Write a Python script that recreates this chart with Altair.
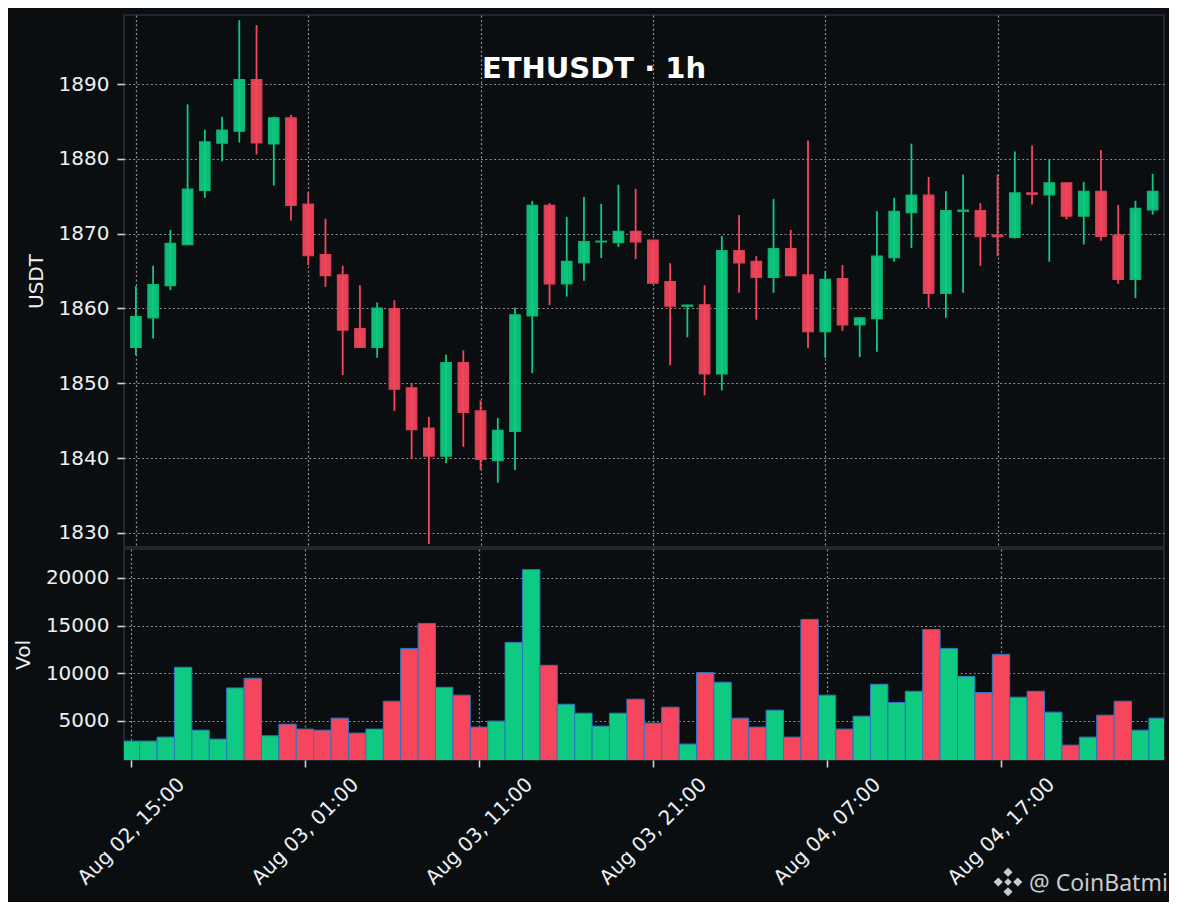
import altair as alt
import numpy as np
import pandas as pd

# ---------------- data ----------------
chart_title = "ETHUSDT · 1h"
watermark_text = "@ CoinBatmi"
first_candle = "2023-08-02T15:00:00Z"

opens = [1854.8, 1858.75, 1863.05, 1868.55, 1875.8, 1882.1, 1883.7, 1890.6, 1882.0, 1885.5,
         1873.95, 1867.2, 1864.5, 1857.3, 1854.8, 1860.0, 1849.4, 1844.0, 1840.25, 1852.75,
         1846.3, 1839.65, 1843.55, 1859.0, 1873.8, 1863.3, 1866.1, 1868.9, 1868.8, 1870.3,
         1869.15, 1863.6, 1860.3, 1860.5, 1851.25, 1867.75, 1866.3, 1864.15, 1868.0, 1864.5,
         1856.9, 1864.0, 1857.8, 1858.65, 1866.8, 1872.8, 1875.15, 1862.0, 1873.0, 1873.1,
         1869.8, 1869.5, 1875.45, 1875.2, 1876.8, 1872.35, 1875.65, 1869.8, 1863.9, 1873.2]
highs = [1863.0, 1865.7, 1870.5, 1887.3, 1883.9, 1885.65, 1898.55, 1897.9, 1885.65, 1885.9,
         1875.5, 1872.0, 1865.7, 1863.1, 1860.8, 1861.1, 1849.95, 1845.5, 1853.85, 1854.4,
         1847.7, 1845.35, 1860.1, 1874.4, 1874.1, 1872.25, 1874.9, 1874.0, 1876.55, 1876.0,
         1869.2, 1866.05, 1860.5, 1863.1, 1869.7, 1872.5, 1867.0, 1874.65, 1870.5, 1882.45,
         1865.0, 1865.8, 1858.75, 1873.0, 1874.8, 1882.05, 1877.6, 1875.7, 1877.9, 1874.1,
         1877.9, 1881.0, 1881.8, 1879.9, 1876.8, 1876.9, 1881.2, 1873.85, 1874.4, 1878.0]
lows = [1853.75, 1856.0, 1862.45, 1868.5, 1874.8, 1879.7, 1882.2, 1880.6, 1876.45, 1871.75,
        1865.8, 1862.9, 1851.1, 1854.8, 1853.4, 1846.3, 1839.9, 1828.5, 1839.3, 1841.5,
        1838.4, 1836.7, 1838.4, 1851.35, 1860.45, 1861.6, 1863.7, 1866.75, 1868.2, 1866.6,
        1863.3, 1852.4, 1856.15, 1848.4, 1849.05, 1862.1, 1858.5, 1862.1, 1864.4, 1854.7,
        1853.4, 1857.0, 1853.5, 1854.2, 1866.25, 1868.1, 1860.1, 1858.75, 1862.1, 1865.7,
        1867.0, 1869.35, 1873.9, 1866.25, 1871.9, 1868.55, 1869.05, 1863.3, 1861.4, 1872.55]
closes = [1858.9, 1863.2, 1868.7, 1875.95, 1882.3, 1883.85, 1890.6, 1882.15, 1885.5, 1873.8,
          1867.05, 1864.4, 1857.1, 1854.8, 1860.05, 1849.2, 1843.8, 1840.25, 1852.75, 1846.1,
          1839.8, 1843.7, 1859.15, 1873.8, 1863.3, 1866.3, 1868.95, 1869.0, 1870.3, 1868.9,
          1863.4, 1860.3, 1860.45, 1851.25, 1867.75, 1866.1, 1864.15, 1868.0, 1864.4, 1856.9,
          1863.9, 1857.8, 1858.75, 1867.0, 1873.0, 1875.15, 1862.0, 1873.1, 1873.15, 1869.6,
          1869.6, 1875.45, 1875.25, 1876.8, 1872.35, 1875.65, 1869.65, 1863.9, 1873.4, 1875.65]
volumes = [2870, 2870, 3290, 10620, 4020, 3080, 8450, 9470, 3430, 4650,
           4130, 4020, 5280, 3710, 4130, 7060, 12600, 15220, 8520, 7690,
           4340, 4970, 13230, 20870, 10830, 6740, 5800, 4440, 5800, 7270,
           4760, 6430, 2560, 10060, 9050, 5280, 4340, 6120, 3290, 15640,
           7690, 4130, 5490, 8840, 6920, 8100, 14590, 12600, 9670, 7970,
           11980, 7480, 8100, 5910, 2450, 3290, 5590, 7060, 4020, 5280]

x_tick_times = ["2023-08-02T15:00:00Z", "2023-08-03T01:00:00Z", "2023-08-03T11:00:00Z",
                "2023-08-03T21:00:00Z", "2023-08-04T07:00:00Z", "2023-08-04T17:00:00Z"]
x_domain_times = ["2023-08-02T14:36:00Z", "2023-08-05T02:22:00Z"]
price_ticks = [1830, 1840, 1850, 1860, 1870, 1880, 1890]
price_domain = [1828.1, 1899.25]
vol_ticks = [5000, 10000, 15000, 20000]
vol_domain = [887, 23035]

# ---------------- styling ----------------
BG = "#0b0e11"
GREEN = "#0ecb81"
RED = "#f6465d"
GREEN_EDGE = "#0cb574"
RED_EDGE = "#dc4056"
TEXT = "#eef0f2"
GRID = "#8a8e94"
FRAME = "#2b3038"
FONT = "DejaVu Sans"

def ms(s):
    return int(pd.Timestamp(s).value // 10**6)

times = pd.date_range(first_candle, periods=len(opens), freq="h")
fmt = "%Y-%m-%dT%H:%M:%SZ"
df = pd.DataFrame({
    "time": times.strftime(fmt),
    "t0": (times - pd.Timedelta(minutes=30)).strftime(fmt),
    "t1": (times + pd.Timedelta(minutes=30)).strftime(fmt),
    "open": opens, "high": highs, "low": lows, "close": closes, "volume": volumes,
})
df["dir"] = np.where(df["close"] >= df["open"], "up", "down")

tick_ms = [ms(t) for t in x_tick_times]
x_scale = alt.Scale(type="utc", domain=[ms(t) for t in x_domain_times])

color_fill = alt.Color("dir:N", scale=alt.Scale(domain=["up", "down"], range=[GREEN, RED]), legend=None)
color_edge = alt.Stroke("dir:N", scale=alt.Scale(domain=["up", "down"], range=[GREEN_EDGE, RED_EDGE]), legend=None)

x_axis_hidden = alt.Axis(values=tick_ms, labels=False, ticks=False, domain=False, grid=True, title=None)
x_axis_bottom = alt.Axis(values=tick_ms, format="%b %d, %H:%M", labelAngle=315, labelAlign="center",
                         labelBaseline="middle", labelPadding=64, tickSize=7, grid=True, domain=False,
                         title=None, labelOverlap=False, labelFlush=False)

price_axis = alt.Axis(values=price_ticks, title="USDT", format="d")
price_scale = alt.Scale(domain=price_domain, zero=False, nice=False)
vol_axis = alt.Axis(values=vol_ticks, title="Vol", format="d")
vol_scale = alt.Scale(domain=vol_domain, zero=False, nice=False)

base = alt.Chart(df)

wicks = base.mark_rule(strokeWidth=1.8, clip=True).encode(
    x=alt.X("time:T", scale=x_scale, axis=x_axis_hidden),
    y=alt.Y("low:Q", scale=price_scale, axis=price_axis, title="USDT"),
    y2="high:Q",
    color=color_fill,
)
bodies = base.mark_bar(size=10.5, strokeWidth=1.2, fillOpacity=0.93, clip=True).encode(
    x=alt.X("time:T", scale=x_scale, axis=x_axis_hidden),
    y=alt.Y("open:Q", scale=price_scale, axis=price_axis, title="USDT"),
    y2="close:Q",
    color=color_fill,
    stroke=color_edge,
)
title_mark = alt.Chart(pd.DataFrame({"t": [chart_title]})).mark_text(
    font=FONT, fontSize=29, fontWeight="bold", color="#ffffff", align="center", baseline="alphabetic"
).encode(x=alt.value(470), y=alt.value(63), text="t:N")

price = alt.layer(wicks, bodies, title_mark).properties(width=1040, height=532)

vol_bars = base.mark_bar(clip=True, stroke="#2a78c2", strokeWidth=1).encode(
    x=alt.X("t0:T", scale=x_scale, axis=x_axis_bottom),
    x2="t1:T",
    y=alt.Y("volume:Q", scale=vol_scale, axis=vol_axis, title="Vol"),
    y2=alt.datum(0),
    color=color_fill,
)
wm_text = alt.Chart(pd.DataFrame({"t": [watermark_text]})).mark_text(
    font="Noto Sans", fontSize=23, color="#c9cbce", align="left", baseline="alphabetic"
).encode(x=alt.value(905), y=alt.value(342), text="t:N")
logo_path = ("M0,-1L0.32,-0.68L0,-0.36L-0.32,-0.68Z M0,1L0.32,0.68L0,0.36L-0.32,0.68Z "
             "M1,0L0.68,0.32L0.36,0L0.68,-0.32Z M-1,0L-0.68,0.32L-0.36,0L-0.68,-0.32Z "
             "M0,-0.26L0.26,0L0,0.26L-0.26,0Z")
wm_logo = alt.Chart(pd.DataFrame({"t": [watermark_text]})).mark_point(
    shape=logo_path, filled=True, color="#c9cbce", size=820, opacity=1
).encode(x=alt.value(884), y=alt.value(333))

volume = alt.layer(vol_bars, wm_logo, wm_text).properties(width=1040, height=211)

chart = alt.vconcat(price, volume, spacing=0).properties(
    padding={"left": 4, "top": 6, "right": 0, "bottom": 4}
).configure(
    background=BG,
).configure_view(
    stroke=FRAME, strokeWidth=1.5, fill=BG
).configure_axis(
    labelFont=FONT, labelFontSize=20, labelColor=TEXT,
    titleFont=FONT, titleFontSize=20, titleFontWeight="normal", titleColor=TEXT,
    gridColor=GRID, gridDash=[2, 2.4], gridWidth=1.2, gridOpacity=1,
    tickColor="#cfd2d6", tickWidth=1.6, tickSize=7,
    domain=False, labelPadding=8, titlePadding=12,
)

chart.save("out.html", embed_options={"renderer": "svg", "actions": False})
